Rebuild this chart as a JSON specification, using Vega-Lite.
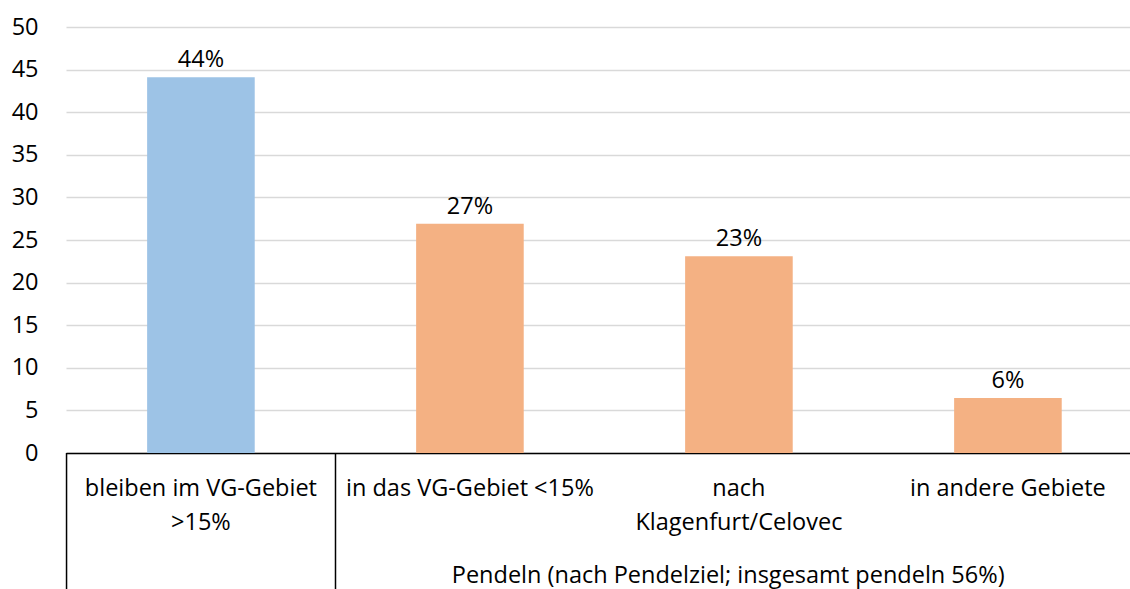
{
  "$schema": "https://vega.github.io/schema/vega-lite/v6.json",
  "width": 1064,
  "height": 426,
  "autosize": {"type": "none"},
  "padding": {"left": 66, "top": 27, "right": 0, "bottom": 136},
  "background": "white",
  "config": {"view": {"stroke": null}, "font": "Open Sans"},
  "datasets": {
    "bars": [
      {"cat": "bleiben im VG-Gebiet|>15%", "value": 44.1, "label": "44%", "grp": "bleiben"},
      {"cat": "in das VG-Gebiet <15%", "value": 26.9, "label": "27%", "grp": "pendeln"},
      {"cat": "nach|Klagenfurt/Celovec", "value": 23.1, "label": "23%", "grp": "pendeln"},
      {"cat": "in andere Gebiete", "value": 6.45, "label": "6%", "grp": "pendeln"}
    ],
    "seps": [{"pos": -0.5}, {"pos": 0.5}],
    "grouplabel": [{"pos": 1.96, "text": "Pendeln (nach Pendelziel; insgesamt pendeln 56%)"}]
  },
  "layer": [
    {
      "data": {"name": "bars"},
      "encoding": {
        "x": {
          "field": "cat",
          "type": "nominal",
          "sort": null,
          "scale": {"paddingInner": 0.6, "paddingOuter": 0.2777, "align": 0.543},
          "axis": {
            "title": null,
            "labelExpr": "split(datum.value, '|')",
            "labelAngle": 0,
            "labelFontSize": 23.5,
            "labelColor": "#000000",
            "labelLimit": 400,
            "labelOverlap": false,
            "labelLineHeight": 34,
            "labelBaseline": "middle",
            "labelPadding": 35,
            "ticks": false,
            "grid": false,
            "domain": true,
            "domainColor": "#000000",
            "domainWidth": 1.5
          }
        },
        "y": {
          "field": "value",
          "type": "quantitative",
          "scale": {"domain": [0, 50], "nice": false},
          "axis": {
            "title": null,
            "values": [0, 5, 10, 15, 20, 25, 30, 35, 40, 45, 50],
            "domain": false,
            "ticks": false,
            "grid": true,
            "gridColor": "#d9d9d9",
            "gridWidth": 1.3,
            "labelFontSize": 23.5,
            "labelColor": "#000000",
            "labelPadding": 28
          }
        }
      },
      "layer": [
        {
          "mark": {"type": "bar"},
          "encoding": {
            "color": {
              "field": "grp",
              "type": "nominal",
              "scale": {"domain": ["bleiben", "pendeln"], "range": ["#9DC3E6", "#F4B183"]},
              "legend": null
            }
          }
        },
        {
          "mark": {"type": "text", "fontSize": 23.5, "color": "#000000", "baseline": "alphabetic", "dy": -10},
          "encoding": {"text": {"field": "label", "type": "nominal"}}
        }
      ]
    },
    {
      "layer": [
        {
          "data": {"name": "seps"},
          "mark": {"type": "rule", "color": "#000000", "strokeWidth": 1.5},
          "encoding": {
            "x": {"field": "pos", "type": "quantitative", "scale": {"domain": [-0.502, 3.454], "nice": false, "zero": false}, "axis": null},
            "y": {"datum": 0, "type": "quantitative", "scale": {"domain": [0, 50], "nice": false}},
            "y2": {"datum": -16}
          }
        },
        {
          "data": {"name": "grouplabel"},
          "mark": {"type": "text", "fontSize": 23.5, "color": "#000000", "baseline": "middle", "align": "center"},
          "encoding": {
            "x": {"field": "pos", "type": "quantitative", "scale": {"domain": [-0.502, 3.454], "nice": false, "zero": false}, "axis": null},
            "y": {"datum": -14.4, "type": "quantitative", "scale": {"domain": [0, 50], "nice": false}},
            "text": {"field": "text", "type": "nominal"}
          }
        }
      ]
    }
  ],
  "resolve": {"scale": {"x": "independent"}}
}
